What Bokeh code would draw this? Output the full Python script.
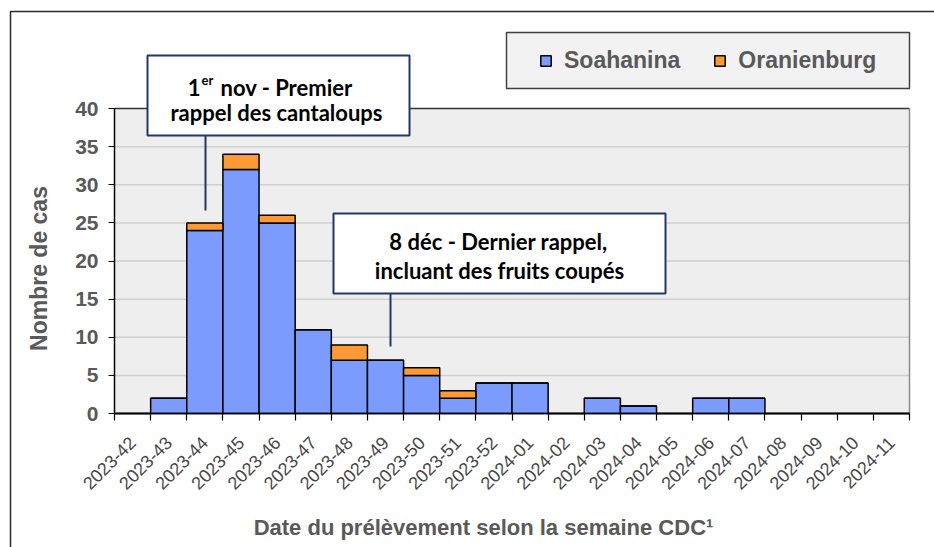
import math
from bokeh.plotting import figure
from bokeh.models import (Range1d, FixedTicker, Legend, LegendItem, BoxAnnotation,
                          Label, ColumnDataSource)
from bokeh.embed import file_html
from bokeh.resources import INLINE

# ---- data ----
weeks = ["2023-42", "2023-43", "2023-44", "2023-45", "2023-46", "2023-47", "2023-48",
         "2023-49", "2023-50", "2023-51", "2023-52", "2024-01", "2024-02", "2024-03",
         "2024-04", "2024-05", "2024-06", "2024-07", "2024-08", "2024-09", "2024-10",
         "2024-11"]
soahanina = [0, 2, 24, 32, 25, 11, 7, 7, 5, 2, 4, 4, 0, 2, 1, 0, 2, 2, 0, 0, 0, 0]
oranienburg = [0, 0, 1, 2, 1, 0, 2, 0, 1, 1, 0, 0, 0, 0, 0, 0, 0, 0, 0, 0, 0, 0]
series = ["Soahanina", "Oranienburg"]
y_ticks = [0, 5, 10, 15, 20, 25, 30, 35, 40]

BLUE = "#7b9bff"
ORANGE = "#ff9933"
NAVY = "#1f3864"
GREY_TXT = "#595959"
SANS = "Liberation Sans"
CAL = "Lato"

n = len(weeks)
xs = list(range(n))
x_lo, x_hi = -0.5, n - 0.5
y_lo, y_hi = y_ticks[0], y_ticks[-1]
src = ColumnDataSource(dict(x=xs, Soahanina=soahanina, Oranienburg=oranienburg))

W, H = 934, 547
# plot area occupies pixels x 114..909, y 108..413 of the canvas
sx = (909 - 114) / (x_hi - x_lo)
sy = (413 - 108) / (y_hi - y_lo)
xr = Range1d(x_lo - 114 / sx, x_hi + (W - 909) / sx)
yr = Range1d(y_lo - (H - 413) / sy, y_hi + 108 / sy)

def px(x):  # canvas pixel -> data x
    return xr.start + x / sx

def py(y):  # canvas pixel -> data y
    return yr.end - y / sy

p = figure(frame_width=W, frame_height=H, min_border=0,
           x_range=xr, y_range=yr,
           output_backend="svg", toolbar_location=None)
p.background_fill_color = "white"
p.border_fill_color = "white"
p.outline_line_color = None
p.grid.grid_line_color = None

# plot area background, grid lines, frame edges
p.quad(left=[x_lo], right=[x_hi], bottom=[y_lo], top=[y_hi],
       fill_color="#eeeeee", line_color=None)
p.segment(x0=[x_lo] * (len(y_ticks) - 2), x1=[x_hi] * (len(y_ticks) - 2),
          y0=y_ticks[1:-1], y1=y_ticks[1:-1], line_color="#cfcfcf", line_width=1.5)
p.segment(x0=[x_lo], x1=[x_hi], y0=[y_hi], y1=[y_hi], line_color="#333333", line_width=1.5)
p.segment(x0=[x_hi], x1=[x_hi], y0=[y_lo], y1=[y_hi], line_color="#8a8a8a", line_width=1.5)

# y axis
ya = p.yaxis[0]
ya.fixed_location = x_lo
ya.bounds = (y_lo, y_hi)
ya.ticker = FixedTicker(ticks=y_ticks)
ya.axis_line_color = "black"
ya.axis_line_width = 1.5
ya.major_tick_out = 6
ya.major_tick_in = 0
ya.major_tick_line_color = "black"
ya.major_tick_line_width = 1.2
ya.minor_tick_line_color = None
ya.major_label_text_font = SANS
ya.major_label_text_font_size = "21px"
ya.major_label_text_font_style = "bold"
ya.major_label_text_color = GREY_TXT
ya.major_label_standoff = 10

# x axis: labels at week centres, tick marks at week boundaries
xa = p.xaxis[0]
xa.fixed_location = y_lo
xa.bounds = (x_lo, x_hi)
xa.ticker = FixedTicker(ticks=xs, minor_ticks=[i - 0.5 for i in range(n + 1)])
xa.major_label_overrides = {i: w for i, w in zip(xs, weeks)}
xa.axis_line_color = "black"
xa.axis_line_width = 1.5
xa.major_tick_line_color = None
xa.major_tick_out = 7
xa.major_tick_in = 0
xa.minor_tick_line_color = "black"
xa.minor_tick_line_width = 1.2
xa.minor_tick_out = 7
xa.minor_tick_in = 0
xa.major_label_orientation = math.pi / 4
xa.major_label_text_font = SANS
xa.major_label_text_font_size = "18px"
xa.major_label_text_color = "#474747"
xa.major_label_standoff = 19

# axis titles
p.add_layout(Label(x=px(38), y=py(268), text="Nombre de cas", angle=math.pi / 2,
                   text_font=SANS, text_font_size="23px", text_font_style="bold",
                   text_color=GREY_TXT, text_align="center", text_baseline="alphabetic"))
p.add_layout(Label(x=px(483), y=py(527), text="Date du prélèvement selon la semaine CDC¹",
                   text_font=SANS, text_font_size="22px", text_font_style="bold",
                   text_color=GREY_TXT, text_align="center", text_baseline="alphabetic"))

# bars
rs = p.vbar_stack(series, x="x", width=1.0, color=[BLUE, ORANGE],
                  line_color="black", line_width=1.5, source=src)

# pointer lines of the call-outs
p.segment(x0=[px(205), px(390)], y0=[py(135), py(293)],
          x1=[px(205), px(390)], y1=[py(210), py(346)],
          line_color=NAVY, line_width=2)

# legend box + legend
p.add_layout(BoxAnnotation(left=px(506), right=px(909), top=py(32), bottom=py(88),
                           fill_color="#f2f2f2", fill_alpha=1,
                           line_color="#404040", line_width=1.5, line_alpha=1))
legend = Legend(items=[LegendItem(label=s, renderers=[r]) for s, r in zip(series, rs)],
                orientation="horizontal", location=(539, H - 74),
                glyph_width=13, glyph_height=13, label_standoff=12, spacing=33,
                label_height=26,
                padding=0, margin=0, border_line_color=None, background_fill_alpha=0,
                label_text_font=SANS, label_text_font_size="23px",
                label_text_font_style="bold", label_text_color=GREY_TXT)
p.add_layout(legend)

# call-out boxes
for l, r, t, b in [(147, 409, 55, 135), (333, 665, 213, 293)]:
    p.add_layout(BoxAnnotation(left=px(l), right=px(r), top=py(t), bottom=py(b),
                               fill_color="white", fill_alpha=1,
                               line_color=NAVY, line_width=2, line_alpha=1))

def lab(x, y, text, size="22px", align="center"):
    p.add_layout(Label(x=px(x), y=py(y), text=text, text_font=CAL, text_font_size=size,
                       text_font_style="bold", text_color="black",
                       text_align=align, text_baseline="alphabetic"))

lab(200, 87, "1", align="right")
lab(201, 79, "er", size="13px", align="left")
lab(220, 87, "nov - Premier", align="left")
lab(276, 112, "rappel des cantaloups")
lab(498, 241, "8 déc - Dernier rappel,")
lab(499, 270, "incluant des fruits coupés")

# outer chart border (top and left edges visible)
p.add_layout(BoxAnnotation(left=px(10), right=px(W + 20), top=py(11), bottom=py(H + 20),
                           fill_alpha=0, line_color="#2a2a2a", line_width=1.5, line_alpha=1))

open("out.html", "w").write(file_html(p, INLINE))
